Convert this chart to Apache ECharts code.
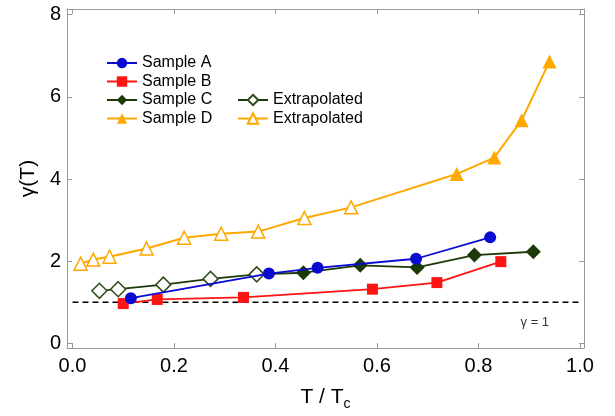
<!DOCTYPE html>
<html>
<head>
<meta charset="utf-8">
<script src="https://cdn.jsdelivr.net/npm/echarts@6/dist/echarts.min.js"></script>
<style>html,body{margin:0;padding:0;background:#fff}#c{width:615px;height:416px}</style>
</head>
<body>
<div id="c"></div>
<script>
// ---- data (T/Tc, gamma) ----
const sampleA = [[0.115,1.10],[0.387,1.70],[0.483,1.84],[0.677,2.06],[0.823,2.58]];
const sampleB = [[0.100,0.97],[0.167,1.07],[0.337,1.12],[0.591,1.32],[0.718,1.48],[0.844,1.99]];
const sampleC = [[0.455,1.72],[0.567,1.90],[0.679,1.85],[0.792,2.15],[0.908,2.23]];
const sampleCExt = [[0.053,1.28],[0.090,1.32],[0.179,1.43],[0.272,1.57],[0.363,1.68]];
const sampleD = [[0.757,4.12],[0.831,4.52],[0.885,5.43],[0.940,6.86]];
const sampleDExt = [[0.016,1.94],[0.041,2.04],[0.073,2.11],[0.146,2.31],[0.220,2.57],[0.293,2.67],[0.366,2.72],[0.457,3.05],[0.549,3.31]];
const refLine = [[0,1],[1,1]];
const refLabelPos = [[0.911,0.52]];
const xTicks = [0,0.2,0.4,0.6,0.8,1.0];
const yTicks = [0,2,4,6,8];

const blue = '#0a0ad2', red = '#ff1414', green = '#1c3a08', greenOpen = '#2e4d1c', orange = '#ffa800';
const axisGray = '#9a9a9a';

function joinTo(prev, arr){
  return [{value: prev[prev.length-1], symbol:'none'}].concat(arr);
}

const chart = echarts.init(document.getElementById('c'));
const baseX = {
  type:'value', min:-0.0108, max:1.0079,
  axisLine:{show:true, onZero:false, lineStyle:{color:axisGray, width:1}},
  axisTick:{show:true, inside:true, length:5, customValues:xTicks, lineStyle:{color:axisGray}},
  splitLine:{show:false}
};
const baseY = {
  type:'value', min:-0.111, max:8.135,
  axisLine:{show:true, onZero:false, lineStyle:{color:axisGray, width:1}},
  axisTick:{show:true, inside:true, length:5, customValues:yTicks, lineStyle:{color:axisGray}},
  splitLine:{show:false}
};
const legendText = {fontFamily:'Liberation Sans, Arial', fontSize:16, color:'#000'};
chart.setOption({
  animation:false,
  backgroundColor:'#fff',
  grid:{left:67, right:31, top:9, bottom:66, containLabel:false},
  xAxis:[
    Object.assign({}, baseX, {
      position:'bottom',
      name:'T / T{sub|c}', nameLocation:'middle', nameGap:35,
      nameTextStyle:{fontFamily:'Liberation Sans, Arial', fontSize:21, color:'#000',
        rich:{sub:{fontFamily:'Liberation Sans, Arial', fontSize:14, color:'#000', padding:[14,0,0,0]}}},
      axisLabel:{show:true, customValues:xTicks, fontFamily:'Liberation Sans, Arial', fontSize:20, color:'#000', margin:8,
        formatter:v=>v.toFixed(1)}
    }),
    Object.assign({}, baseX, {position:'top', axisLabel:{show:false}})
  ],
  yAxis:[
    Object.assign({}, baseY, {
      position:'left',
      name:'γ(T)', nameLocation:'middle', nameGap:28,
      nameTextStyle:{fontFamily:'Liberation Sans, Arial', fontSize:21, color:'#000'},
      axisLabel:{show:true, customValues:yTicks, fontFamily:'Liberation Sans, Arial', fontSize:20, color:'#000', margin:6}
    }),
    Object.assign({}, baseY, {position:'right', axisLabel:{show:false}})
  ],
  legend:[
    {orient:'vertical', left:106, top:55, padding:0, itemWidth:30, itemHeight:13, itemGap:2.5,
     textStyle:legendText, data:['Sample A','Sample B','Sample C','Sample D']},
    {orient:'vertical', left:237, top:92, padding:0, itemWidth:30, itemHeight:13, itemGap:2.5,
     textStyle:legendText, data:['Extrapolated','Extrapolated ']}
  ],
  series:[
    {name:'ref', type:'line', data:refLine, symbol:'none', silent:true,
     lineStyle:{color:'#000', width:1.5, type:[6,4]}, z:1},
    {name:'refLabel', type:'scatter', data:refLabelPos, symbolSize:0, silent:true,
     label:{show:true, position:'inside', formatter:'γ = 1', fontFamily:'Liberation Sans, Arial', fontSize:13, color:'#000'}},
    {name:'Extrapolated ', type:'line', data:sampleDExt, symbol:'triangle', symbolSize:13,
     lineStyle:{color:orange, width:2}, itemStyle:{color:'#fff', borderColor:orange, borderWidth:1.5}, z:3},
    {name:'Sample D', type:'line', data:joinTo(sampleDExt, sampleD), symbol:'triangle', symbolSize:14,
     lineStyle:{color:orange, width:2}, itemStyle:{color:orange}, z:3},
    {name:'Extrapolated', type:'line', data:sampleCExt, symbol:'diamond', symbolSize:15,
     lineStyle:{color:green, width:1.8}, itemStyle:{color:'#fff', borderColor:greenOpen, borderWidth:1.5}, z:4},
    {name:'Sample C', type:'line', data:joinTo(sampleCExt, sampleC), symbol:'diamond', symbolSize:15,
     lineStyle:{color:green, width:1.8}, itemStyle:{color:green}, z:4},
    {name:'Sample B', type:'line', data:sampleB, symbol:'rect', symbolSize:11,
     lineStyle:{color:red, width:1.8}, itemStyle:{color:red}, z:5},
    {name:'Sample A', type:'line', data:sampleA, symbol:'circle', symbolSize:12,
     lineStyle:{color:blue, width:1.8}, itemStyle:{color:blue}, z:6}
  ]
});
</script>
</body>
</html>
